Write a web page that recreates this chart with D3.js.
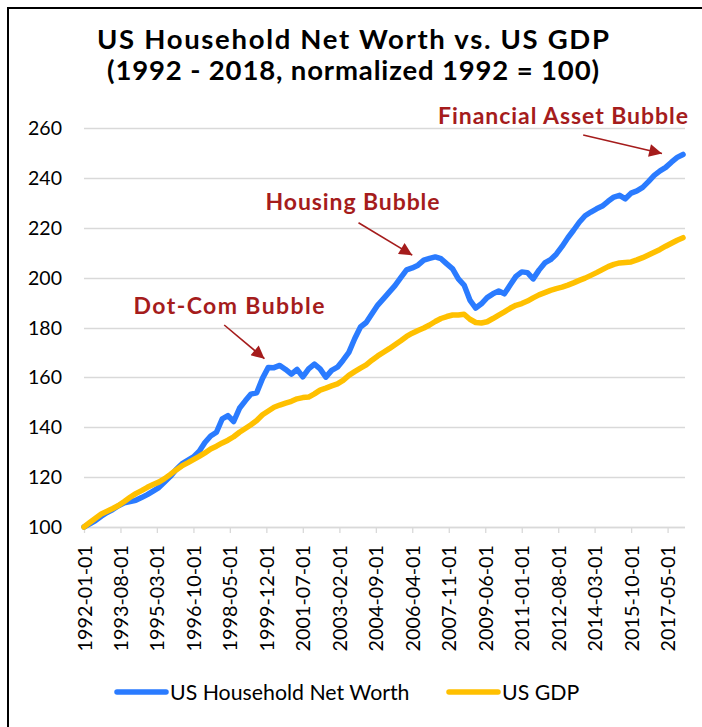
<!DOCTYPE html>
<html>
<head>
<meta charset="utf-8">
<script src="https://cdn.jsdelivr.net/npm/d3@7"></script>
<style>
  html, body { margin: 0; padding: 0; background: #fff; }
  svg { display: block; font-family: Lato, "Open Sans", sans-serif; }
</style>
</head>
<body>
<div id="chart"></div>
<script>
// ---------------- DATA ----------------
const seriesNames = ["US Household Net Worth", "US GDP"];
const startDate = "1992-01-01";
const endDate = "2018-02-01";
// quarterly observations, 1992-01 .. 2018-01 (normalized 1992 = 100)
const netWorth = [
  100, 101.3, 102.6, 104.3, 105.8, 107, 108.5, 109.7, 110.2, 110.7,
  111.8, 113, 114.4, 115.8, 118, 120.3, 123.1, 125.3, 126.7, 128.1,
  130.4, 133.9, 136.5, 138, 143.4, 144.7, 142.3, 147.6, 150.6, 153.3,
  153.8, 159.6, 164, 163.9, 164.8, 163.2, 161.3, 163.2, 160.2, 163.4,
  165.3, 163.4, 160.1, 162.8, 164.1, 166.9, 170, 175.5, 180.2, 182,
  185.5, 189, 191.6, 194.2, 196.8, 200, 203.1, 203.9, 205, 207,
  207.7, 208.3, 207.6, 205.5, 203.5, 199.5, 197, 191, 187.8, 189.5,
  192, 193.5, 194.6, 193.5, 197, 200.5, 202.3, 202, 199.5, 203,
  205.9, 207.2, 209.4, 212.5, 216, 219, 222.2, 224.8, 226.3, 227.6,
  228.7, 230.6, 232.3, 233, 231.6, 233.9, 234.8, 236.2, 238.5, 241,
  242.8, 244.2, 246.3, 248.2, 249.4
];
const gdp = [
  100, 101.8, 103.5, 105.2, 106.3, 107.4, 108.6, 110.2, 111.9, 113.4,
  114.6, 115.9, 117, 118, 119.4, 121.1, 122.9, 124.5, 125.7, 127,
  128.3, 129.7, 131.3, 132.4, 133.7, 134.8, 136.2, 138, 139.5, 141,
  142.7, 145, 146.5, 148, 148.9, 149.7, 150.4, 151.4, 151.9, 152.1,
  153.4, 154.9, 155.7, 156.6, 157.4, 158.8, 160.8, 162.3, 163.7, 165,
  166.9, 168.6, 170.1, 171.5, 173.1, 174.7, 176.4, 177.7, 178.8, 179.8,
  181, 182.4, 183.6, 184.4, 185, 185, 185.3, 183.3, 182, 181.8,
  182.3, 183.6, 185, 186.3, 187.7, 188.9, 189.6, 190.6, 191.9, 193.1,
  194, 194.9, 195.6, 196.2, 197, 197.9, 198.9, 199.8, 200.9, 202,
  203.2, 204.4, 205.3, 205.9, 206.1, 206.3, 207.1, 208, 209.1, 210.2,
  211.3, 212.6, 213.8, 215, 216
];
const xTickLabels = [
  "1992-01-01", "1993-08-01", "1995-03-01", "1996-10-01", "1998-05-01",
  "1999-12-01", "2001-07-01", "2003-02-01", "2004-09-01", "2006-04-01",
  "2007-11-01", "2009-06-01", "2011-01-01", "2012-08-01", "2014-03-01",
  "2015-10-01", "2017-05-01"
];
const yTicks = [100, 120, 140, 160, 180, 200, 220, 240, 260];
const annotations = [
  { label: "Dot-Com Bubble", from: "1998-02-01", fromV: 181, to: "1999-11-01", toV: 167.5 },
  { label: "Housing Bubble", from: "2003-12-01", fromV: 222, to: "2006-04-01", toV: 209 },
  { label: "Financial Asset Bubble", from: "2013-09-01", fromV: 257.2, to: "2017-02-01", toV: 249.8 }
];

// ---------------- CHART ----------------
const W = 702, H = 727;
const parse = d3.timeParse("%Y-%m-%d");
const quarters = d3.timeMonth.range(parse(startDate), parse(endDate), 3);

const svg = d3.select("#chart").append("svg")
  .attr("width", W).attr("height", H);

// outer border (open to the right and bottom, as in the reference crop)
svg.append("path")
  .attr("d", `M8,${H + 5} L8,8 L${W + 5},8`)
  .attr("fill", "none").attr("stroke", "#000").attr("stroke-width", 2);

const x = d3.scaleTime().domain([parse(startDate), parse(endDate)]).range([84, 685]);
const y = d3.scaleLinear().domain([100, 260]).range([527, 128]);

// gridlines
svg.append("g").selectAll("line").data(yTicks).join("line")
  .attr("x1", 84).attr("x2", 685)
  .attr("y1", d => Math.round(y(d)) + 0.5).attr("y2", d => Math.round(y(d)) + 0.5)
  .attr("stroke", "#d9d9d9").attr("stroke-width", 1.3);

// y labels
svg.append("g").selectAll("text").data(yTicks).join("text")
  .attr("x", 62).attr("y", d => y(d))
  .attr("dy", "0.36em")
  .attr("text-anchor", "end")
  .attr("font-size", 19.5).attr("fill", "#000")
  .text(d => d);

// x axis
const xAxis = d3.axisBottom(x)
  .tickValues(xTickLabels.map(parse))
  .tickSize(6)
  .tickFormat((d, i) => xTickLabels[i]);
const gx = svg.append("g").attr("transform", "translate(0,527)").call(xAxis);
gx.select(".domain").attr("stroke", "#d9d9d9").attr("stroke-width", 1.3)
  .attr("d", "M84,0.5H685");
gx.selectAll(".tick line").attr("stroke", "#d9d9d9").attr("stroke-width", 1.3);
gx.selectAll(".tick text")
  .attr("font-family", "Lato, sans-serif")
  .attr("font-size", 19.8).attr("fill", "#000")
  .attr("transform", "rotate(-90)")
  .attr("text-anchor", "end")
  .attr("x", -18).attr("y", 0).attr("dy", "0.36em");

// lines
const lineGen = vals => d3.line()
  .x((d, i) => x(quarters[i]))
  .y(d => y(d))(vals);

const colors = ["#2a7bff", "#ffc000"];
[netWorth, gdp].forEach((vals, k) => {
  svg.append("path")
    .attr("d", lineGen(vals))
    .attr("fill", "none")
    .attr("stroke", colors[k])
    .attr("stroke-width", 5.5)
    .attr("stroke-linejoin", "round")
    .attr("stroke-linecap", "round");
});

// title
const title = svg.append("text")
  .attr("text-anchor", "middle")
  .attr("font-weight", "bold").attr("font-size", 27.5).attr("fill", "#000");
title.append("tspan").attr("x", 353).attr("y", 49)
  .attr("textLength", 512).attr("lengthAdjust", "spacing")
  .text("US Household Net Worth vs. US GDP");
title.append("tspan").attr("x", 353).attr("y", 80)
  .attr("textLength", 492).attr("lengthAdjust", "spacing")
  .text("(1992 - 2018, normalized 1992 = 100)");

// annotations
const red = "#a51c1c";
svg.append("defs").append("marker")
  .attr("id", "arr").attr("viewBox", "0 0 10 10")
  .attr("refX", 10).attr("refY", 5)
  .attr("markerWidth", 9).attr("markerHeight", 8)
  .attr("markerUnits", "strokeWidth")
  .attr("orient", "auto")
  .append("path").attr("d", "M0,0 L10,5 L0,10 z").attr("fill", red);

const labelPos = [
  { x: 229, y: 314, anchor: "middle", len: 191 },
  { x: 352.5, y: 210, anchor: "middle", len: 174 },
  { x: 688, y: 124, anchor: "end", len: 250 }
];
annotations.forEach((a, i) => {
  svg.append("text")
    .attr("x", labelPos[i].x).attr("y", labelPos[i].y)
    .attr("text-anchor", labelPos[i].anchor)
    .attr("font-weight", "bold").attr("font-size", 23).attr("fill", red)
    .attr("textLength", labelPos[i].len).attr("lengthAdjust", "spacing")
    .text(a.label);
  svg.append("line")
    .attr("x1", x(parse(a.from))).attr("y1", y(a.fromV))
    .attr("x2", x(parse(a.to))).attr("y2", y(a.toV))
    .attr("stroke", red).attr("stroke-width", 1.6)
    .attr("marker-end", "url(#arr)");
});

// legend
const legendItems = [
  { name: seriesNames[0], color: colors[0], x: 117 },
  { name: seriesNames[1], color: colors[1], x: 449 }
];
const lg = svg.append("g");
legendItems.forEach(it => {
  lg.append("line")
    .attr("x1", it.x).attr("x2", it.x + 49)
    .attr("y1", 692).attr("y2", 692)
    .attr("stroke", it.color).attr("stroke-width", 5.5)
    .attr("stroke-linecap", "round");
  lg.append("text")
    .attr("x", it.x + 53).attr("y", 700)
    .attr("font-size", 21.3).attr("fill", "#000")
    .text(it.name);
});
</script>
</body>
</html>
